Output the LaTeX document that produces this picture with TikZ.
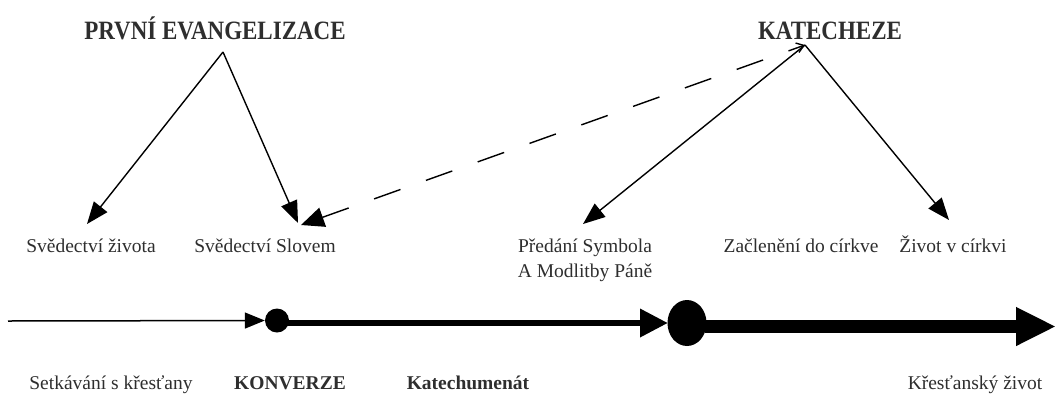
\documentclass[tikz,border=0pt]{standalone}
\usepackage{fontspec}
\usepackage{graphicx}
\setmainfont{Liberation Serif}
\usetikzlibrary{arrows.meta,shapes.geometric}
\begin{document}
\begin{tikzpicture}[x=1pt,y=-1pt,
  lbl/.style={anchor=base,inner sep=0pt,text=black!82,font=\fontsize{19.5}{25}\selectfont},
  blbl/.style={lbl,font=\fontsize{19.5}{25}\selectfont\bfseries},
  ttl/.style={anchor=base,inner sep=0pt,text=black!82,font=\fontsize{23}{27}\selectfont\bfseries},
  diag/.style={line width=1.4pt,-{Triangle[length=22pt,width=17pt]}},
  dsh/.style={line width=1.4pt,dash pattern=on 28pt off 27pt,
     {Triangle[length=23pt,width=20pt]}-{Straight Barb[length=7pt,width=10pt]}},
  dot/.style={fill=black,inner sep=0pt,draw=none}
]
\useasboundingbox (0,0) rectangle (1056,394);
% titles
\node[ttl] (pe) at (215,39) {\scalebox{1}[1.15]{PRVNÍ EVANGELIZACE}};
\node[ttl] (kat) at (830,39) {\scalebox{1}[1.15]{KATECHEZE}};
\coordinate (peTop) at (223,52);
\coordinate (katTop) at (805,45);
% labels
\node[lbl] (sz) at (91,252) {Svědectví života};
\node[lbl] (ss) at (265,252) {Svědectví Slovem};
\node[lbl] (ps) at (585,252) {\begin{tabular}[t]{@{}c@{}}Předání Symbola\\A Modlitby Páně\end{tabular}};
\node[lbl] (zc) at (801,252) {Začlenění do církve};
\node[lbl] (zv) at (953,252) {Život v církvi};
\node[lbl] (sk) at (111,389) {Setkávání s křesťany};
\node[blbl] (kon) at (290,389) {KONVERZE};
\node[blbl] (kt) at (468,389) {Katechumenát};
\node[lbl] (kz) at (975,389) {Křesťanský život};
% arrow tips
\coordinate (tSZ) at (87,224);
\coordinate (tSS) at (298,223);
\coordinate (tDS) at (301,225);
\coordinate (tPS) at (583,224);
\coordinate (tZV) at (949,220);
\draw[diag] (peTop) -- (tSZ);
\draw[diag] (peTop) -- (tSS);
\draw[diag] (katTop) -- (tPS);
\draw[diag] (katTop) -- (tZV);
\draw[dsh] (tDS) -- (katTop);
% timeline
\node[dot,circle,minimum size=24pt] (d1) at (277,320.5) {};
\node[dot,ellipse,minimum width=39pt,minimum height=46pt] (d2) at (687,323) {};
\coordinate (s0) at (8,321);
\coordinate (a1) at (287,323);
\coordinate (a2) at (668,323);
\coordinate (b1) at (705,326.5);
\coordinate (b2) at (1056,326.5);
\draw[line width=1.5pt,-{Triangle[length=20pt,width=16pt]}] (s0) -- (d1.west);
\draw[line width=6.5pt,-{Triangle[length=28pt,width=27pt]}] (a1) -- (a2);
\draw[line width=12.5pt,-{Triangle[length=40pt,width=36pt]}] (b1) -- (b2);
\end{tikzpicture}
\end{document}
